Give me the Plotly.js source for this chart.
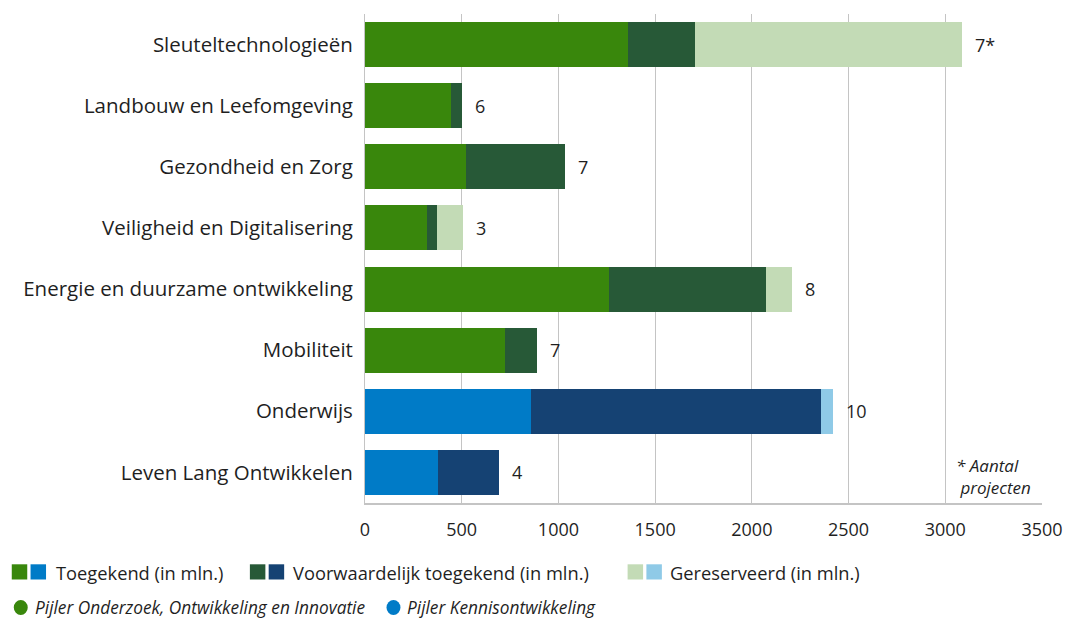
<!DOCTYPE html>
<html>
<head>
<meta charset="utf-8">
<script src="https://cdn.plot.ly/plotly-3.0.1.min.js"></script>
<style>
  html, body { margin: 0; padding: 0; background: #ffffff; }
  #chart { width: 1067px; height: 619px; }
</style>
</head>
<body>
<div id="chart"></div>
<script>
// ---- Data ----
const categories = [
  "Sleuteltechnologieën",
  "Landbouw en Leefomgeving",
  "Gezondheid en Zorg",
  "Veiligheid en Digitalisering",
  "Energie en duurzame ontwikkeling",
  "Mobiliteit",
  "Onderwijs",
  "Leven Lang Ontwikkelen"
];
const pillar = ["OOI", "OOI", "OOI", "OOI", "OOI", "OOI", "KO", "KO"];
const toegekend      = [1362, 442, 520, 323, 1259, 726, 856, 375];
const voorwaardelijk = [342, 62, 512, 47, 812, 161, 1499, 320];
const gereserveerd   = [1381, 0, 0, 139, 134, 0, 67, 0];
const projectCounts  = ["7*", "6", "7", "3", "8", "7", "10", "4"];
const xTicks = [0, 500, 1000, 1500, 2000, 2500, 3000, 3500];
const seriesNames = ["Toegekend (in mln.)", "Voorwaardelijk toegekend (in mln.)", "Gereserveerd (in mln.)"];
const pillarNames = ["Pijler Onderzoek, Ontwikkeling en Innovatie", "Pijler Kennisontwikkeling"];
const footnote = "* Aantal<br> projecten";

// ---- Styling ----
const palette = {
  OOI: ["#39870c", "#275937", "#c3dbb6"],
  KO:  ["#007bc7", "#154273", "#8fcae7"]
};
const FONT = "'Open Sans', 'Noto Sans', sans-serif";
const TXT = "#1f1f1f";

const W = 1067, H = 619;
const M = { l: 364.5, r: 25, t: 14, b: 116 };
const PW = W - M.l - M.r, PH = H - M.t - M.b;
const px = x => (x - M.l) / PW;           // pixel -> paper x
const py = y => (H - M.b - y) / PH;       // pixel -> paper y

const seriesValues = [toegekend, voorwaardelijk, gereserveerd];
const traces = seriesValues.map((vals, i) => ({
  type: "bar",
  orientation: "h",
  y: categories,
  x: vals,
  name: seriesNames[i],
  marker: { color: pillar.map(p => palette[p][i]), line: { width: 0 } },
  hoverinfo: "x+y",
  showlegend: false
}));

const totals = categories.map((c, i) => toegekend[i] + voorwaardelijk[i] + gereserveerd[i]);

const annotations = categories.map((c, i) => ({
  x: totals[i], y: c, xref: "x", yref: "y",
  text: projectCounts[i], showarrow: false,
  xanchor: "left", yanchor: "middle", xshift: 11,
  font: { family: FONT, size: 18, color: TXT }
}));

annotations.push({
  x: px(1033), y: py(476), xref: "paper", yref: "paper",
  text: "<i>" + footnote + "</i>", showarrow: false,
  xanchor: "right", yanchor: "middle", align: "left",
  font: { family: FONT, size: 17, color: TXT }
});

// custom legend
const shapes = [];
const legendRow1 = [
  { sq: 11, txt: 53 },
  { sq: 249.3, txt: 290 },
  { sq: 627.3, txt: 668 }
];
legendRow1.forEach((e, i) => {
  ["OOI", "KO"].forEach((p, j) => {
    const x0 = e.sq + j * 18.8;
    shapes.push({
      type: "rect", xref: "paper", yref: "paper",
      x0: px(x0), x1: px(x0 + 15.5), y0: py(579.5), y1: py(564.3),
      fillcolor: palette[p][i], line: { width: 0 }
    });
  });
  annotations.push({
    x: px(e.txt), y: py(572), xref: "paper", yref: "paper",
    text: seriesNames[i], showarrow: false, xanchor: "left", yanchor: "middle",
    font: { family: FONT, size: 18.3, color: TXT }
  });
});
const legendRow2 = [
  { cx: 20, txt: 32, color: palette.OOI[0] },
  { cx: 393, txt: 405, color: palette.KO[0] }
];
legendRow2.forEach((e, i) => {
  shapes.push({
    type: "circle", xref: "paper", yref: "paper",
    x0: px(e.cx - 7), x1: px(e.cx + 7), y0: py(615), y1: py(600),
    fillcolor: e.color, line: { width: 0 }
  });
  annotations.push({
    x: px(e.txt), y: py(607.5), xref: "paper", yref: "paper",
    text: "<i>" + pillarNames[i] + "</i>", showarrow: false, xanchor: "left", yanchor: "middle",
    font: { family: FONT, size: 17.3, color: TXT }
  });
});

const layout = {
  width: W, height: H,
  margin: M,
  paper_bgcolor: "#ffffff",
  plot_bgcolor: "#ffffff",
  barmode: "stack",
  bargap: 0.265,
  showlegend: false,
  font: { family: FONT, color: TXT },
  xaxis: {
    range: [0, 3500],
    tickvals: xTicks,
    ticktext: xTicks.map(String),
    showgrid: true, gridcolor: "#c4c4c4", gridwidth: 1,
    zeroline: false,
    showline: true, linecolor: "#c4c4c4", linewidth: 2,
    ticks: "", ticklabelstandoff: 9,
    tickfont: { family: FONT, size: 18, color: TXT },
    fixedrange: true
  },
  yaxis: {
    type: "category",
    categoryorder: "array",
    categoryarray: categories,
    autorange: "reversed",
    showgrid: false, zeroline: false,
    showline: true, linecolor: "#c4c4c4", linewidth: 1,
    ticks: "", ticklabelstandoff: 7,
    tickfont: { family: FONT, size: 20.5, color: TXT },
    fixedrange: true
  },
  shapes: shapes,
  annotations: annotations
};

Plotly.newPlot("chart", traces, layout, { displayModeBar: false, staticPlot: true });
</script>
</body>
</html>
